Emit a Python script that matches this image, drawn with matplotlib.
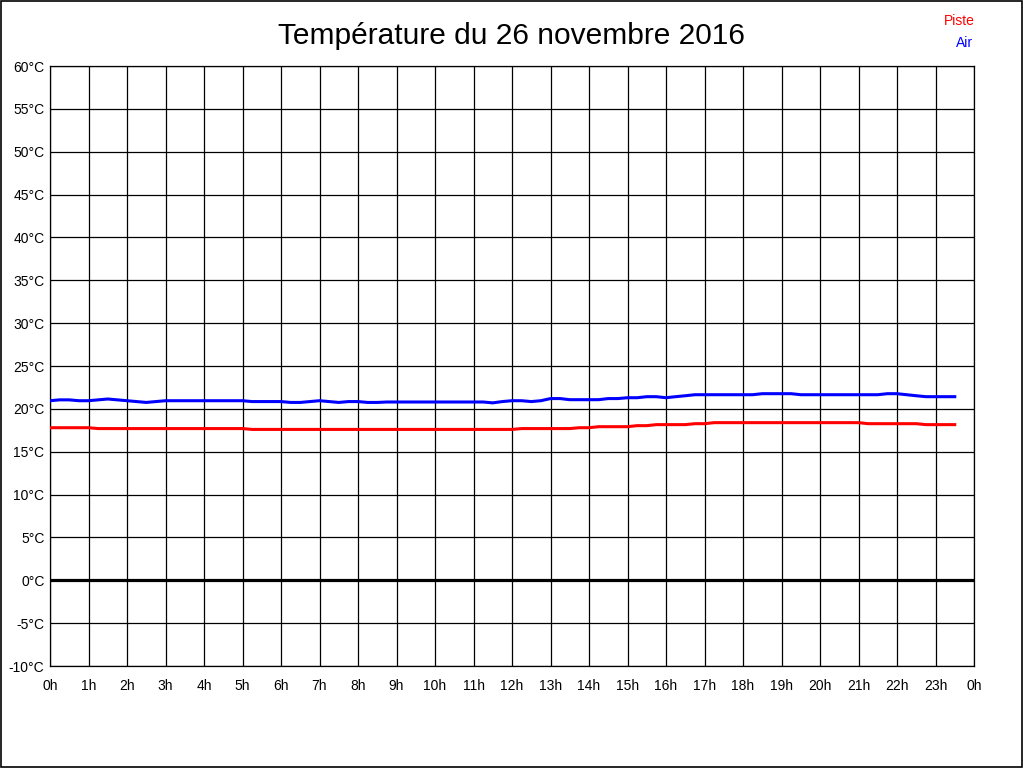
import matplotlib
matplotlib.use("Agg")
import matplotlib.pyplot as plt
from matplotlib.patches import Rectangle
import numpy as np

plt.rcParams['font.family'] = ['Liberation Sans', 'DejaVu Sans']

title = "Température du 26 novembre 2016"
hour_labels = [f"{h}h" for h in range(24)] + ["0h"]
temp_ticks = list(range(-10, 61, 5))

# sample times (hours), every 15 minutes from 0h to 23h30
times = np.arange(0, 23.5 + 0.001, 0.25)

air = [
    20.95, 21.05, 21.05, 20.95,   # 0h
    20.95, 21.05, 21.15, 21.05,   # 1h
    20.95, 20.85, 20.75, 20.85,   # 2h
    20.95, 20.95, 20.95, 20.95,   # 3h
    20.95, 20.95, 20.95, 20.95,   # 4h
    20.95, 20.85, 20.85, 20.85,   # 5h
    20.85, 20.75, 20.75, 20.85,   # 6h
    20.95, 20.85, 20.75, 20.85,   # 7h
    20.85, 20.75, 20.75, 20.80,   # 8h
    20.80, 20.80, 20.80, 20.80,   # 9h
    20.80, 20.80, 20.80, 20.80,   # 10h
    20.80, 20.80, 20.70, 20.85,   # 11h
    20.95, 20.95, 20.85, 20.95,   # 12h
    21.20, 21.20, 21.07, 21.07,   # 13h
    21.07, 21.07, 21.20, 21.20,   # 14h
    21.30, 21.30, 21.42, 21.42,   # 15h
    21.30, 21.42, 21.53, 21.65,   # 16h
    21.65, 21.65, 21.65, 21.65,   # 17h
    21.65, 21.65, 21.77, 21.77,   # 18h
    21.77, 21.77, 21.65, 21.65,   # 19h
    21.65, 21.65, 21.65, 21.65,   # 20h
    21.65, 21.65, 21.65, 21.77,   # 21h
    21.77, 21.65, 21.53, 21.42,   # 22h
    21.42, 21.42, 21.42,          # 23h
]

piste = [
    17.80, 17.80, 17.80, 17.80,   # 0h
    17.80, 17.70, 17.70, 17.70,   # 1h
    17.70, 17.70, 17.70, 17.70,   # 2h
    17.70, 17.70, 17.70, 17.70,   # 3h
    17.70, 17.70, 17.70, 17.70,   # 4h
    17.70, 17.60, 17.60, 17.60,   # 5h
    17.60, 17.60, 17.60, 17.60,   # 6h
    17.60, 17.60, 17.60, 17.60,   # 7h
    17.60, 17.60, 17.60, 17.60,   # 8h
    17.60, 17.60, 17.60, 17.60,   # 9h
    17.60, 17.60, 17.60, 17.60,   # 10h
    17.60, 17.60, 17.60, 17.60,   # 11h
    17.60, 17.70, 17.70, 17.70,   # 12h
    17.70, 17.70, 17.70, 17.80,   # 13h
    17.80, 17.92, 17.92, 17.92,   # 14h
    17.92, 18.04, 18.04, 18.16,   # 15h
    18.16, 18.16, 18.16, 18.27,   # 16h
    18.27, 18.39, 18.39, 18.39,   # 17h
    18.39, 18.39, 18.39, 18.39,   # 18h
    18.39, 18.39, 18.39, 18.39,   # 19h
    18.39, 18.39, 18.39, 18.39,   # 20h
    18.39, 18.27, 18.27, 18.27,   # 21h
    18.27, 18.27, 18.27, 18.16,   # 22h
    18.16, 18.16, 18.16,          # 23h
]

fig = plt.figure(figsize=(10.24, 7.68), dpi=100)
fig.patch.set_facecolor('white')
ax = fig.add_axes([50/1024, 1 - 666/768, 924/1024, 600/768])

ax.set_xlim(0, 24)
ax.set_ylim(-10, 60)
ax.set_xticks(range(25))
ax.set_xticklabels(hour_labels)
ax.set_yticks(temp_ticks)
ax.set_yticklabels([f"{v}°C" for v in temp_ticks])
ax.tick_params(length=0, labelsize=10, colors='black')
ax.tick_params(axis='x', pad=9)
ax.tick_params(axis='y', pad=4)
ax.grid(True, color='black', linewidth=0.9)
ax.set_axisbelow(True)
for s in ax.spines.values():
    s.set_color('black')
    s.set_linewidth(0.9)

ax.axhline(0, color='black', linewidth=2.3, zorder=2)
ax.plot(times, piste, color='#ff0000', linewidth=2.2, zorder=3)
ax.plot(times, air, color='#0000ff', linewidth=2.2, zorder=3)

fig.text(0.5, 1 - 36/768, title, ha='center', va='center', fontsize=21.5, color='black')
fig.text(975/1024, 1 - 21/768, "Piste", ha='right', va='center', fontsize=10, color='#ff0000')
fig.text(973/1024, 1 - 43/768, "Air", ha='right', va='center', fontsize=10, color='#0000ff')

fig.patches.append(Rectangle((0.0005, 0.0007), 0.998, 0.998, transform=fig.transFigure,
                             fill=False, edgecolor='black', linewidth=1.2))

fig.savefig("out.png", dpi=100, facecolor='white')
